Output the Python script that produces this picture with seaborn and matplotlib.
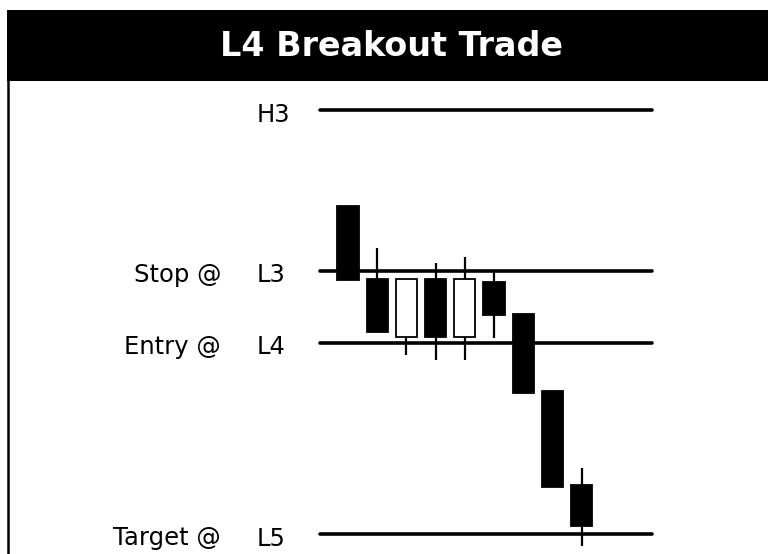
import numpy as np
import pandas as pd
import seaborn as sns
import matplotlib.pyplot as plt
from matplotlib.patches import Rectangle
from matplotlib.lines import Line2D

# pivot levels (price units)
level_names = ['H3', 'L3', 'L4', 'L5']
level_prefix = ['', 'Stop @', 'Entry @', 'Target @']
level_prices = [42.4, 26.35, 19.15, 0.0]

# candles
candle_idx = np.arange(9)
opens = [32.8, 25.5, 19.7, 25.5, 19.7, 25.2, 22.0, 14.3, 4.9]
closes = [25.4, 20.2, 25.5, 19.7, 25.5, 21.9, 14.1, 4.7, 0.8]
highs = [32.8, 28.6, 25.5, 27.1, 27.7, 26.2, 22.0, 14.3, 6.6]
lows = [25.4, 20.2, 17.9, 17.4, 17.4, 19.6, 14.1, 4.7, -1.2]

title = 'L4 Breakout Trade'

sns.set_theme(style='white')
plt.rcParams['font.family'] = ['DejaVu Sans']

W, H = 768, 554
fig = plt.figure(figsize=(W / 100, H / 100), dpi=100)
fig.patch.set_facecolor('white')

# plot area below the title bar
top_px = 81
ax = fig.add_axes([0, 0, 1, (H - top_px) / H])
ax.set_facecolor('white')
x0_px, step_px = 348, 29.2
ax.set_xlim((0 - x0_px) / step_px, (W - x0_px) / step_px)
ax.set_ylim((534 - H) / 10, (534 - top_px) / 10)
ax.axis('off')

# horizontal level lines
line_start, line_end = (320 - x0_px) / step_px, (652 - x0_px) / step_px
lv = pd.DataFrame({
    'level': np.repeat(level_names, 2),
    'x': [line_start, line_end] * len(level_names),
    'price': np.repeat(level_prices, 2),
})
sns.lineplot(data=lv, x='x', y='price', units='level', estimator=None,
             color='black', linewidth=2.6, ax=ax, zorder=1, legend=False)

# wicks then bodies
ax.vlines(candle_idx, lows, highs, color='black', linewidth=1.6, zorder=2)
o = np.array(opens)
c = np.array(closes)
body_col = ['white' if cc > oo else 'black' for oo, cc in zip(o, c)]
ax.bar(candle_idx, np.abs(c - o), bottom=np.minimum(o, c), width=0.72,
       color=body_col, edgecolor='black', linewidth=1.3, zorder=3)

# labels
name_x = (257 - x0_px) / step_px
pref_x = (221 - x0_px) / step_px
for name, pre, p in zip(level_names, level_prefix, level_prices):
    ax.text(name_x, p - 1.15, name, ha='left', va='baseline', fontsize=17.5, color='black')
    if pre:
        ax.text(pref_x, p - 1.15, pre, ha='right', va='baseline', fontsize=17.5, color='black')

# title bar
fig.patches.append(Rectangle((6.5 / W, (H - 81) / H), 1 - 6.5 / W, 71 / H,
                             transform=fig.transFigure, facecolor='black',
                             edgecolor='none', zorder=5))
fig.text(392 / W, (H - 46) / H, title, ha='center', va='center', color='white',
         fontsize=24, fontweight='bold', zorder=6)

# left border
fig.lines.append(Line2D([7.8 / W, 7.8 / W], [0, (H - 80) / H], transform=fig.transFigure,
                        color='black', linewidth=1.8, zorder=5))

fig.savefig('out.png', dpi=100, facecolor='white')
